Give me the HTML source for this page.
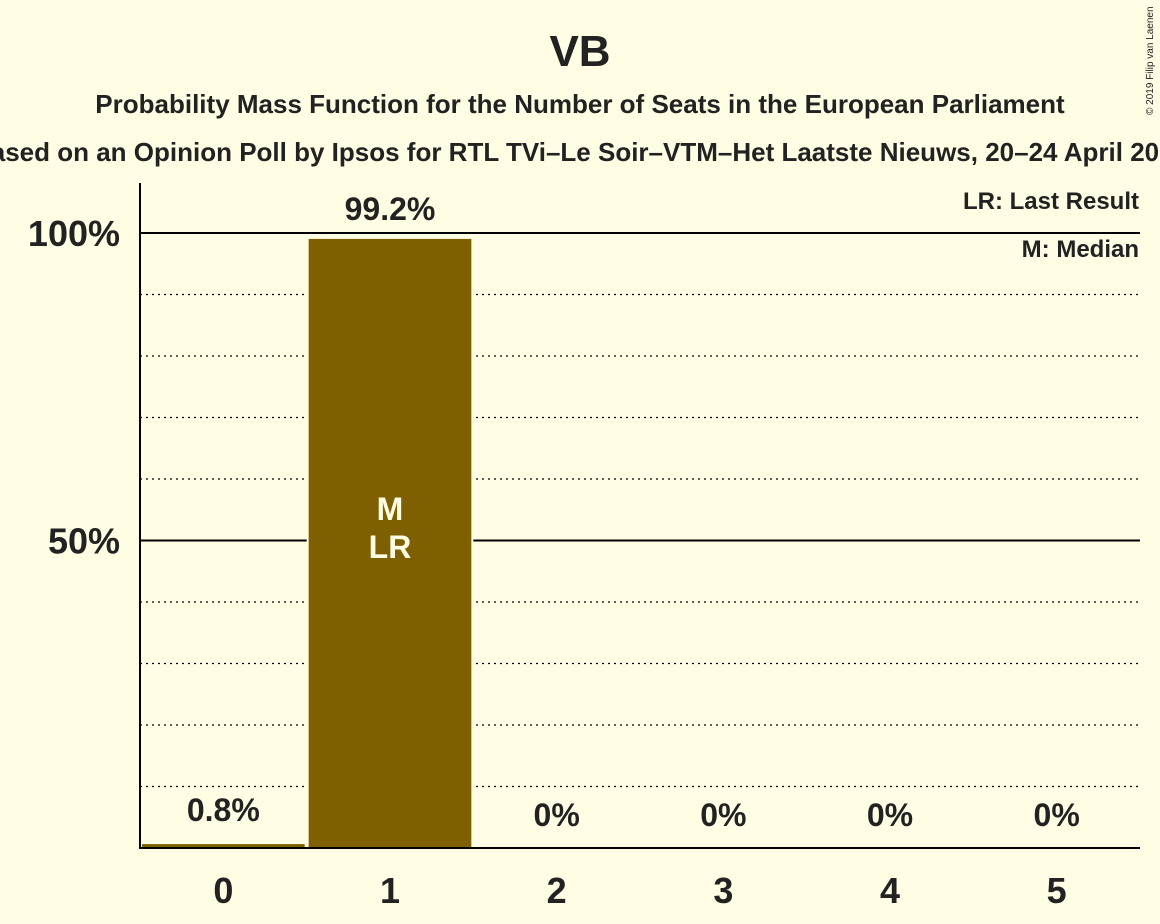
<!DOCTYPE html>
<html><head><meta charset="utf-8"><style>
body{margin:0;background:#fffde3;}
svg{display:block;font-family:"Liberation Sans",sans-serif;}
</style></head><body>
<svg width="1160" height="924" viewBox="0 0 1160 924" xmlns="http://www.w3.org/2000/svg">
<rect width="1160" height="924" fill="#fffde3"/>
<text x="580" y="66" text-anchor="middle" font-size="44" font-weight="bold" fill="#222">VB</text>
<text x="580" y="113" text-anchor="middle" font-size="26" font-weight="bold" fill="#222">Probability Mass Function for the Number of Seats in the European Parliament</text>
<text x="580" y="161" text-anchor="middle" font-size="26" font-weight="bold" fill="#222">Based on an Opinion Poll by Ipsos for RTL TVi–Le Soir–VTM–Het Laatste Nieuws, 20–24 April 2019</text>
<text x="1153" y="115" font-size="10" fill="#222" transform="rotate(-90 1153 115)">© 2019 Filip van Laenen</text>
<g id="grid"></g>
<g id="bars"></g>
<line x1="140" y1="183" x2="140" y2="848" stroke="#000" stroke-width="2"/>
<line x1="139" y1="848" x2="1140" y2="848" stroke="#000" stroke-width="2"/>
<text x="1139" y="209" text-anchor="end" font-size="24" font-weight="bold" fill="#222">LR: Last Result</text>
<text x="1139" y="257" text-anchor="end" font-size="24" font-weight="bold" fill="#222">M: Median</text>
</svg>
<script>
const categories=[0,1,2,3,4,5];
const values=[0.8,99.2,0,0,0,0];
const labels=["0.8%","99.2%","0%","0%","0%","0%"];
const yTicks=[50,100];
const medianIdx=1, lastIdx=1;
const ns="http://www.w3.org/2000/svg";
const x0=140,x1=1140,yBase=848,yTop=233;
const bw=(x1-x0)/categories.length;
const y=v=>yBase-(yBase-yTop)*v/100;
const xc=i=>x0+bw*(i+0.5);
const svg=document.querySelector('svg'),grid=document.getElementById('grid'),bars=document.getElementById('bars');
function mk(t,a,p){const e=document.createElementNS(ns,t);for(const k in a)e.setAttribute(k,a[k]);p.appendChild(e);return e;}
for(let g=10;g<=100;g+=10){
  const l=mk('line',{x1:x0,x2:x1,y1:y(g),y2:y(g),stroke:'#000','stroke-width':g%50===0?2:1.2,'stroke-dasharray':g%50===0?'none':'2,4'},grid);
  
  
}
yTicks.forEach(t=>{
  const e=mk('text',{x:120,y:y(t)+13,'text-anchor':'end','font-size':36,'font-weight':'bold',fill:'#222'},svg);
  e.textContent=t+'%';
  
  
});
categories.forEach((c,i)=>{
  const v=values[i];
  if(v>0){
    const r=mk('rect',{x:xc(i)-bw/2+1,y:y(v),width:bw-2,height:yBase-y(v),fill:'#7f6000',stroke:'#fffde3','stroke-width':2},bars);
    
    
  }
  const t=mk('text',{x:xc(i),y:(v>20?y(v)-18:y(v)-22),'text-anchor':'middle','font-size':32,'font-weight':'bold',fill:'#222'},svg);
  t.textContent=labels[i];
  
  
  const xl=mk('text',{x:xc(i),y:903,'text-anchor':'middle','font-size':36,'font-weight':'bold',fill:'#222'},svg);
  xl.textContent=c;
  
  
});
const m=mk('text',{x:xc(medianIdx),y:520,'text-anchor':'middle','font-size':32,'font-weight':'bold',fill:'#fffde3'},svg);
m.textContent='M';


const lr=mk('text',{x:xc(lastIdx),y:558,'text-anchor':'middle','font-size':32,'font-weight':'bold',fill:'#fffde3'},svg);
lr.textContent='LR';


</script>
</body></html>
